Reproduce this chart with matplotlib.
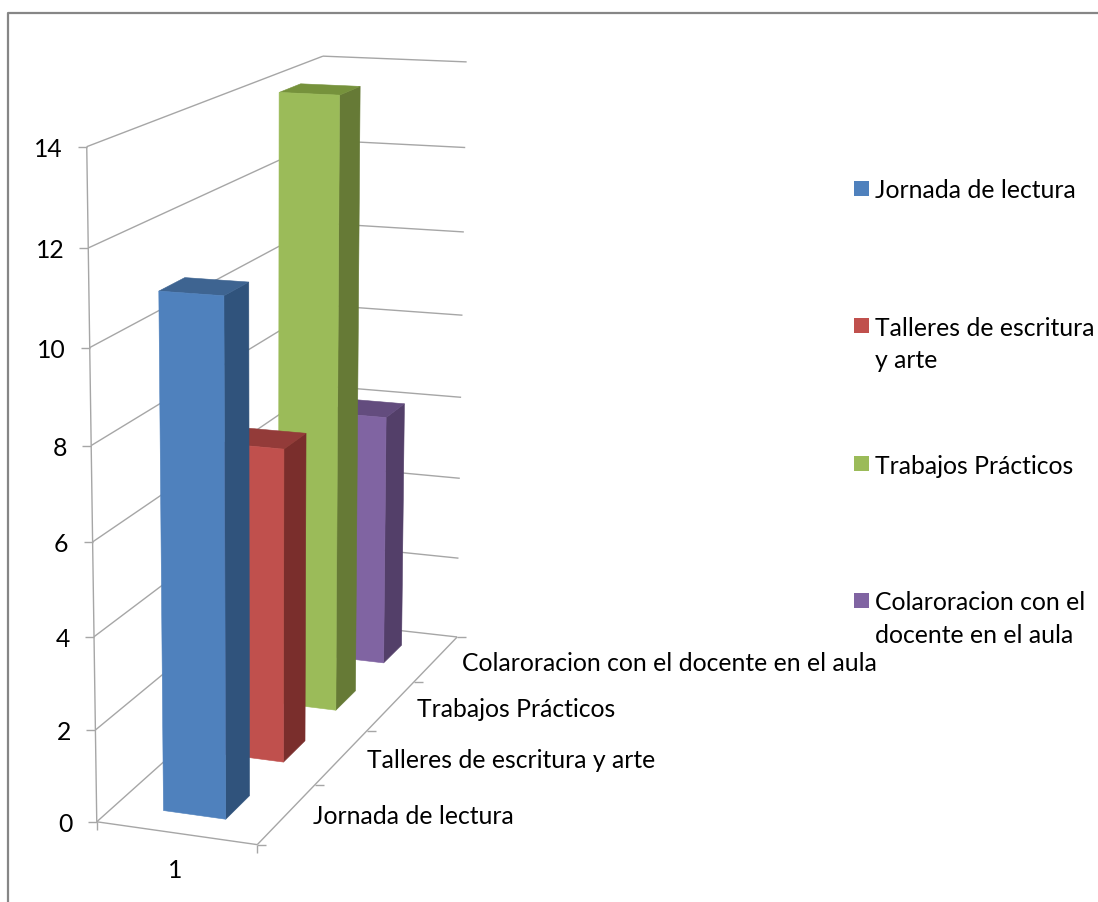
import numpy as np
import matplotlib
matplotlib.use("Agg")
import matplotlib.pyplot as plt
from matplotlib.patches import Polygon, Rectangle

plt.rcParams['font.family'] = ['Lato', 'DejaVu Sans']

series_names = ["Jornada de lectura", "Talleres de escritura y arte",
                "Trabajos Prácticos", "Colaroracion con el docente en el aula"]
legend_labels = ["Jornada de lectura", "Talleres de escritura\ny arte",
                 "Trabajos Prácticos", "Colaroracion con el\ndocente en el aula"]
values = [11, 7, 14, 6]
value_ticks = [0, 2, 4, 6, 8, 10, 12, 14]
category_label = "1"

face_colors = ["#4F81BD", "#C0504D", "#9BBB59", "#8064A2"]
top_colors = ["#3E6491", "#933B39", "#76923C", "#634C7E"]
side_colors = ["#30537C", "#7A2E2C", "#667A36", "#533F69"]

W, H = 1098, 902
ZMAX = 14.0
GRID = "#A6A6A6"
FS = 17.8

# camera fitted on the chart box: (front, depth, value) -> pixel
calib = [((0, 0, 0), (97, 822)), ((1, 0, 0), (257, 845)), ((1, 1, 0), (457, 637)),
         ((0, 1, 0), (320, 622)), ((0, 0, 14), (86, 147)), ((0, 1, 14), (323, 56)),
         ((1, 1, 14), (467, 62)), ((1, 1, 12), (465, 148)), ((1, 1, 10), (464, 232)),
         ((1, 1, 8), (463, 315)), ((1, 1, 6), (461, 397)), ((1, 1, 4), (460, 478)),
         ((1, 1, 2), (458, 558)), ((0, 0, 12), (88, 248)), ((0, 0, 6), (93, 541)),
         ((0, 0, 2), (96, 730))]
A, b = [], []
for (x, y, z), (u, v) in calib:
    A.append([x, y, z, 1, 0, 0, 0, 0, -u * x, -u * y, -u * z])
    A.append([0, 0, 0, 0, x, y, z, 1, -v * x, -v * y, -v * z])
    b += [u, v]
P = np.append(np.linalg.lstsq(np.array(A, float), np.array(b, float), rcond=None)[0], 1).reshape(3, 4)


def proj(x, y, z):
    p = P @ np.array([x, y, z, 1.0])
    return p[0] / p[2], p[1] / p[2]


fig = plt.figure(figsize=(W / 100, H / 100), dpi=100)
ax = fig.add_axes([0, 0, 1, 1])
ax.set_xlim(0, W)
ax.set_ylim(H, 0)
ax.axis("off")


def line(a, b, color=GRID, lw=1.0, z=1):
    ax.plot([a[0], b[0]], [a[1], b[1]], color=color, lw=lw, zorder=z, solid_capstyle="butt")


# chart border
ax.plot([W, 8, 8], [13, 13, H], color="#868686", lw=1.6, zorder=1)

# walls and floor
for t in value_ticks:
    if t > 0:
        line(proj(0, 0, t), proj(0, 1, t))
        line(proj(0, 1, t), proj(1, 1, t))
    px, py = proj(0, 0, t)
    line((px - 9, py), (px, py))
    ax.text(px - 24, py + 3, str(t), ha="right", va="center", fontsize=FS, color="#000000")
line(proj(0, 0, 0), proj(0, 0, ZMAX))
line(proj(0, 0, 0), proj(1, 0, 0))
line(proj(1, 0, 0), proj(1, 1, 0))
line(proj(0, 0, 0), proj(0, 1, 0))
line(proj(0, 1, 0), proj(1, 1, 0))

# category axis ticks and label
for x in (0, 1):
    px, py = proj(x, 0, 0)
    line((px, py), (px, py + 8))
px0, py0 = proj(0, 0, 0)
px1, py1 = proj(1, 0, 0)
ax.text((px0 + px1) / 2 - 2, 871, category_label, ha="center", va="center", fontsize=FS)

# depth axis ticks and labels
n = len(series_names)
for i in range(n + 1):
    px, py = proj(1, i / n, 0)
    line((px, py), (px + 9, py))
for i, name in enumerate(series_names):
    px, py = proj(1, (i + 0.5) / n, 0)
    ax.text(px + 26, py + 2 + 0.7 * i, name, ha="left", va="center", fontsize=FS)

# bars, back to front
x0, x1 = 0.3, 0.693
for i in reversed(range(n)):
    y0, y1 = (i + 0.3) / n, (i + 0.7) / n
    v = min(values[i], ZMAX)
    z = 10 + (n - i)
    faces = [
        ([(x1, y0, 0), (x1, y1, 0), (x1, y1, v), (x1, y0, v)], side_colors[i]),
        ([(x0, y0, v), (x1, y0, v), (x1, y1, v), (x0, y1, v)], top_colors[i]),
        ([(x0, y0, 0), (x1, y0, 0), (x1, y0, v), (x0, y0, v)], face_colors[i]),
    ]
    for pts, c in faces:
        ax.add_patch(Polygon([proj(*q) for q in pts], closed=True, facecolor=c,
                             edgecolor=c, lw=0.4, zorder=z))

# legend
legend_tops = [181, 318, 456, 593]
for lab, c, top in zip(legend_labels, face_colors, legend_tops):
    ax.add_patch(Rectangle((854, top), 15, 15, facecolor=c, edgecolor="none", zorder=5))
    ax.text(875, top - 1.5, lab, ha="left", va="top", fontsize=FS, linespacing=1.5)

fig.savefig("out.png", dpi=100)
